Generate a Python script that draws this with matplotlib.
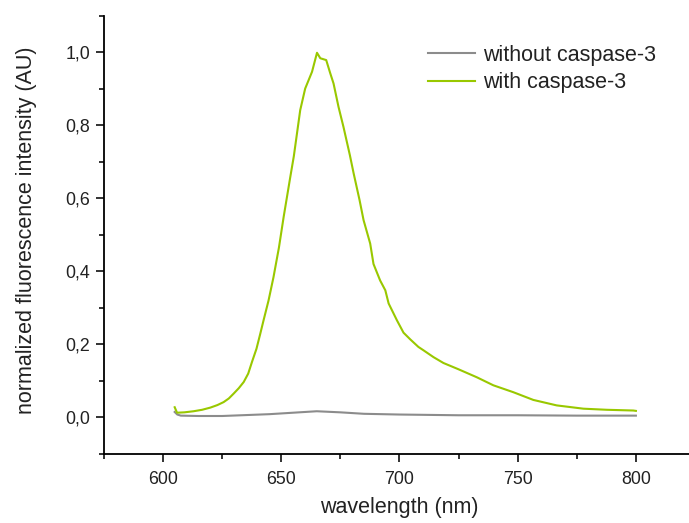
import matplotlib
matplotlib.use("Agg")
import matplotlib.pyplot as plt
from matplotlib.ticker import MultipleLocator, FuncFormatter

plt.rcParams['font.family'] = ['Liberation Sans', 'DejaVu Sans']

# with caspase-3 (green)
wl_with = [604.9, 605.9, 609.0, 612.9, 616.5, 620.0, 623.0, 625.6, 627.8, 629.8, 632.0,
           634.1, 636.0, 637.6, 639.5, 641.1, 642.5, 644.6, 646.7, 649.0, 651.0, 653.8,
           655.3, 658.0, 660.1, 663.0, 665.1, 666.5, 669.0, 670.7, 672.1, 674.2, 676.3,
           679.0, 680.6, 683.1, 684.8, 687.6, 689.0, 691.8, 694.0, 695.4, 698.9, 701.7,
           704.5, 708.0, 710.1, 714.4, 718.6, 724.9, 732.7, 739.7, 748.2, 756.6, 766.5,
           777.8, 787.7, 798.9, 800.0]
int_with = [0.028, 0.013, 0.014, 0.017, 0.021, 0.027, 0.034, 0.042, 0.052, 0.065, 0.080,
            0.097, 0.120, 0.152, 0.188, 0.229, 0.266, 0.320, 0.384, 0.465, 0.549, 0.658,
            0.715, 0.841, 0.900, 0.946, 0.998, 0.983, 0.978, 0.942, 0.914, 0.850, 0.795,
            0.718, 0.668, 0.595, 0.540, 0.476, 0.420, 0.375, 0.348, 0.312, 0.266, 0.232,
            0.214, 0.193, 0.184, 0.165, 0.149, 0.132, 0.110, 0.088, 0.069, 0.048, 0.033,
            0.024, 0.021, 0.019, 0.018]

# without caspase-3 (gray)
wl_without = [604.9, 606.0, 607.5, 615.0, 625.0, 637.0, 645.0, 655.0, 665.0, 675.0,
              685.0, 700.0, 725.0, 750.0, 775.0, 800.0]
int_without = [0.015, 0.008, 0.005, 0.004, 0.004, 0.007, 0.009, 0.013, 0.017, 0.014,
               0.010, 0.008, 0.006, 0.006, 0.005, 0.005]

labels = ["without caspase-3", "with caspase-3"]
colors = ["#8c8c8c", "#99c800"]

fig = plt.figure(figsize=(6.89, 5.23), dpi=100)
ax = fig.add_axes([104/689, 69/523, 591/689, 438.5/523])

ax.plot(wl_without, int_without, color=colors[0], lw=1.5, label=labels[0])
ax.plot(wl_with, int_with, color=colors[1], lw=1.5, label=labels[1])

ax.set_xlim(575, 825)
ax.set_ylim(-0.1, 1.1)

for s in ['top', 'right']:
    ax.spines[s].set_visible(False)
for s in ['left', 'bottom']:
    ax.spines[s].set_linewidth(1.3)

ax.xaxis.set_major_locator(MultipleLocator(50))
ax.xaxis.set_minor_locator(MultipleLocator(25))
ax.yaxis.set_major_locator(MultipleLocator(0.2))
ax.yaxis.set_minor_locator(MultipleLocator(0.1))
ax.set_xticks([600, 650, 700, 750, 800])
ax.set_yticks([0.0, 0.2, 0.4, 0.6, 0.8, 1.0])
ax.yaxis.set_major_formatter(FuncFormatter(lambda v, p: f"{v:.1f}".replace('.', ',')))

ax.tick_params(which='major', direction='out', length=6, width=1.3, labelsize=12.8, pad=4,
               colors='#222222', labelcolor='#222222')
ax.tick_params(axis='x', which='major', pad=6)
ax.tick_params(which='minor', direction='out', length=3.5, width=1.3, colors='#222222')

ax.set_xlabel("wavelength (nm)", fontsize=15.5, color='#222222')
ax.set_ylabel("normalized fluorescence intensity (AU)", fontsize=15.5, color='#222222')
ax.xaxis.set_label_coords(0.499, -0.098)
ax.yaxis.set_label_coords(-0.113, 0.51)

leg = ax.legend(loc='upper left', bbox_to_anchor=(428/689, 1 - 45/523),
                bbox_transform=fig.transFigure, frameon=False, fontsize=15.5,
                handlelength=2.2, handletextpad=0.35, labelspacing=0.3,
                borderpad=0, borderaxespad=0)
for t in leg.get_texts():
    t.set_color('#222222')

fig.savefig("out.png", dpi=100)
